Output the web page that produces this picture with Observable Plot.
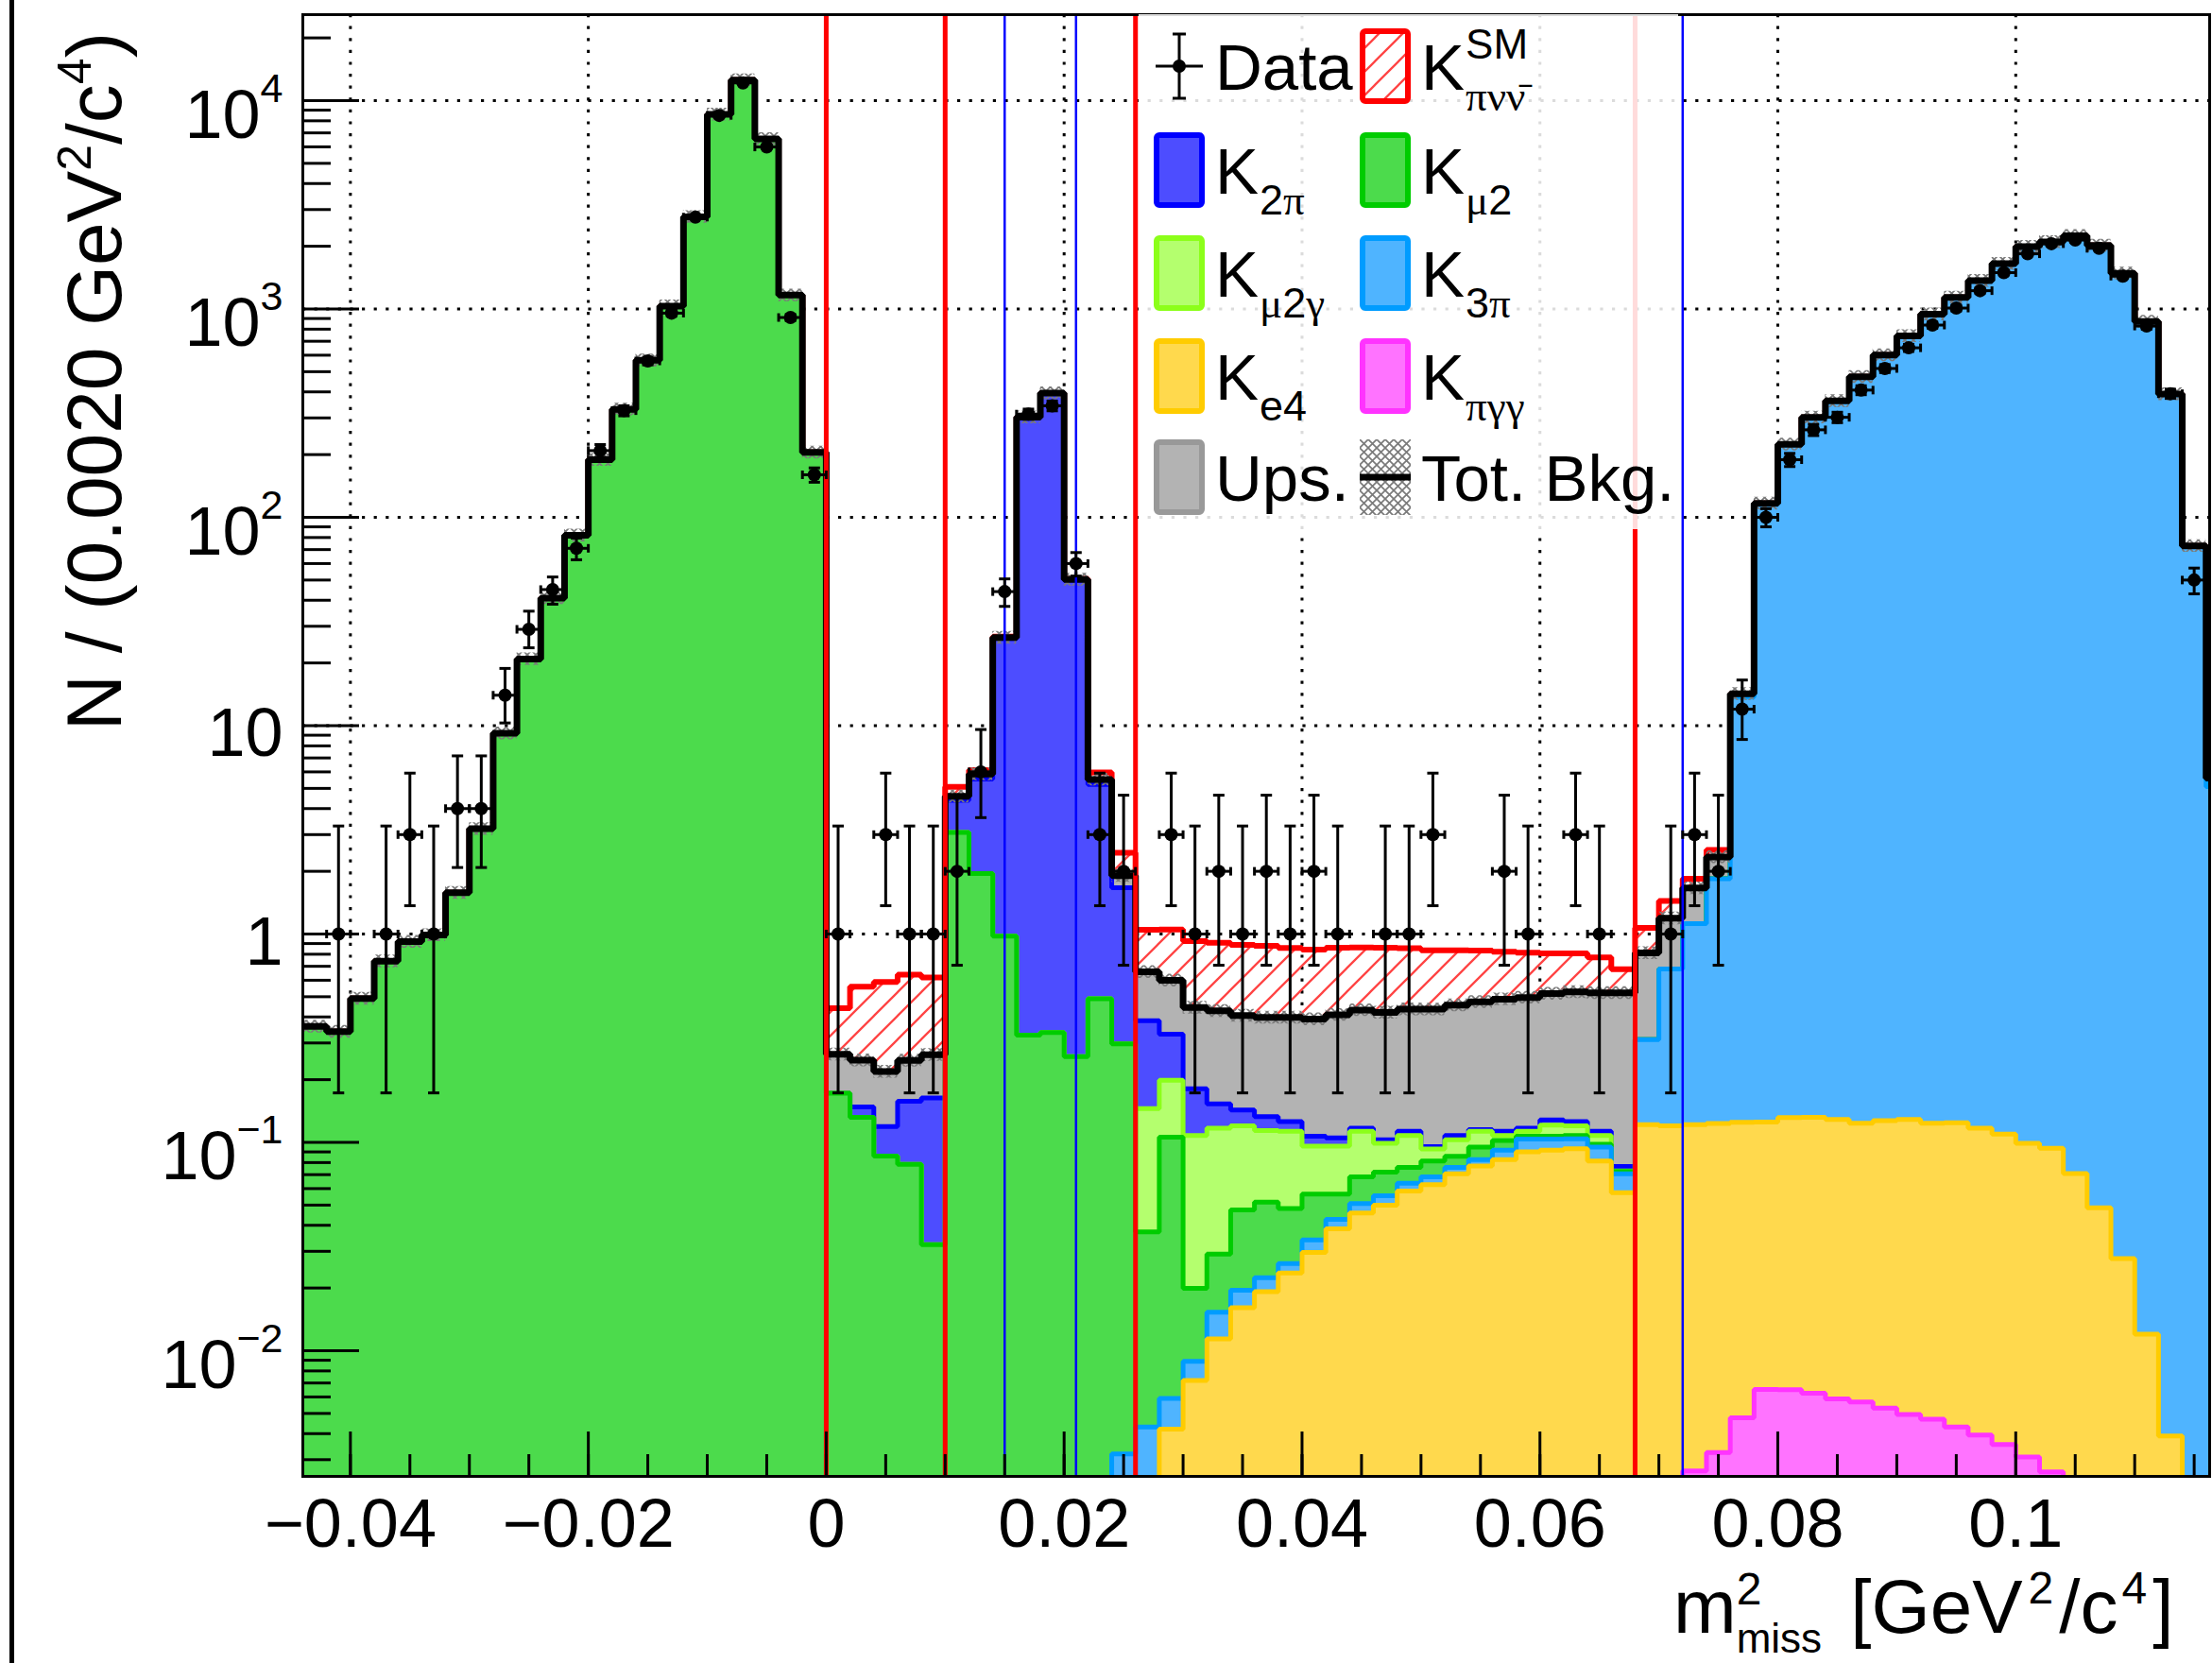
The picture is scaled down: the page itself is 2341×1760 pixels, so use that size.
<!DOCTYPE html>
<html>
<head>
<meta charset="utf-8">
<script src="https://cdn.jsdelivr.net/npm/d3@7"></script>
<script src="https://cdn.jsdelivr.net/npm/@observablehq/plot@0.6"></script>
<style>
  html, body { margin: 0; padding: 0; background: #fff; }
  #wrap { position: relative; width: 2341px; height: 1760px; overflow: hidden; background: #fff; }
  #edge { position: absolute; z-index: 5; left: 10px; top: 0; width: 0; height: 1760px; border-left: 5px solid #000; }
</style>
</head>
<body>
<div id="wrap"><div id="edge"></div></div>
<script>
// ---------------- binning / axes ----------------
const xStart = -0.044;
const binWidth = 0.002;
const xDomain = [-0.044, 0.1163];
const yDomain = [0.002494, 25860];

const xMajorTicks = [-0.04, -0.02, 0, 0.02, 0.04, 0.06, 0.08, 0.1];
const xTickLabels = ["\u22120.04", "\u22120.02", "0", "0.02", "0.04", "0.06", "0.08", "0.1"];
const yMajorTicks = [0.01, 0.1, 1, 10, 100, 1000, 10000];
const yTickBase = ["10", "10", "1", "10", "10", "10", "10"];
const yTickExp = ["\u22122", "\u22121", "", "", "2", "3", "4"];

const redCuts = [0, 0.010, 0.026, 0.068];
const blueCuts = [0.015, 0.021, 0.072];

// ---------------- data counts per bin (81 bins from -0.044) ----------------
const dataCounts = [
  0,1,0,1,3,1,4,4,14,29,45,71,209,325,563,955,2760,8490,12160,5990,910,160,
  1,0,3,1,1,
  2,6,44,313,343,60,3,2,
  0,3,1,2,1,2,1,2,1,0,1,1,3,0,0,2,1,0,3,1,0,
  0,1,3,2,12,100,189,263,302,408,518,651,837,1010,1224,1494,1840,2057,2141,1955,1437,828,392,50,0
];

// ---------------- stacked components (bottom to top) ----------------
const kpigg = [
  0,0,0,0,0,0,0,0,0,0,0,0,0,0,0,0,0,0,0,0,0,0,
  0,0,0,0,0,
  0,0,0,0,0,0,0,0,
  0,0,0,0,0,0,0,0,0,0,0,0,0,0,0,0,0,0,0,0,0,
  0,0,0.00265,0.00325,0.00477,0.00652,0.0065,0.00625,0.00587,0.00567,0.0053,0.00494,0.00469,0.0043,0.00394,0.00355,0.00309,0.00262,0,0,0,0,0,0,0
];
const ke4 = [
  0,0,0,0,0,0,0,0,0,0,0,0,0,0,0,0,0,0,0,0,0,0,
  0,0,0,0,0,
  0,0,0,0,0,0,0,0,
  0.0015,0.0042,0.0072,0.0114,0.0161,0.0192,0.0236,0.0296,0.0385,0.0458,0.0499,0.0584,0.0626,0.0707,0.0771,0.0827,0.0902,0.0918,0.0933,0.0813,0.0574,
  0.1216,0.12,0.119,0.12,0.12,0.1185,0.125,0.1257,0.123,0.118,0.122,0.124,0.119,0.12,0.113,0.106,0.096,0.091,0.0709,0.0485,0.0277,0.012,0.0039,0,0
];
const k3pi = [
  0,0,0,0,0,0,0,0,0,0,0,0,0,0,0,0,0,0,0,0,0,0,
  0,0,0,0,0,
  0,0,0,0,0,0,0,0.0032,
  0.0028,0.0017,0.0017,0.0039,0.0034,0.0032,0.0026,0.0044,0.0042,0.005,0.0055,0.0053,0.0057,0.0051,0.0056,0.0091,0.0136,0.012,0.0107,0.0137,0.0133,
  0.19,0.56,1.0,1.72,13.6,116.1,223.4,301.4,361.4,472.4,600.4,742.4,943.4,1137,1367,1650,1991,2097,2244,2016,1481,870,390,72.5,5.1
];
const kmu2 = [
  0.36,0.34,0.49,0.74,0.92,0.99,1.58,3.2,9.2,20.9,41,82,189,330,567,1033,2770,8590,12560,6550,1165,205,
  0.172,0.132,0.086,0.0785,0.0323,
  3.07,1.95,0.977,0.327,0.337,0.258,0.489,0.294,
  0.0329,0.1,0.011,0.0138,0.0279,0.0293,0.022,0.0224,0.0137,0.0175,0.0166,0.0121,0.013,0.0099,0.0123,0.0102,0.0032,0.0032,0.004,0.003,0.0018,
  0,0,0,0,0,0,0,0,0,0,0,0,0,0,0,0,0,0,0,0,0,0,0,0,0
];
const kmu2g = [
  0,0,0,0,0,0,0,0,0,0,0,0,0,0,0,0,0,0,0,0,0,0,
  0,0,0,0,0,
  0,0,0,0,0,0,0,0,
  0.108,0.093,0.088,0.088,0.0726,0.0623,0.0648,0.0396,0.0396,0.0447,0.027,0.0322,0.0117,0.0173,0.018,0.006,0.006,0.014,0.012,0.01,0.0005,
  0,0,0,0,0,0,0,0,0,0,0,0,0,0,0,0,0,0,0,0,0,0,0,0,0
];
const k2pi = [
  0,0,0,0,0,0,0,0,0,0,0,0,0,0,0,0,0,0,0,0,0,0,
  0,0.016,0.033,0.079,0.131,
  1.31,3.6,25.2,302,394,49.8,4.73,1.37,
  0.238,0.132,0.073,0.036,0.023,0.019,0.013,0.011,0.009,0.004,0.004,0.005,0.0025,0.005,0.002,0.005,0.004,0.007,0.006,0.005,0.0036,
  0,0,0,0,0,0,0,0,0,0,0,0,0,0,0,0,0,0,0,0,0,0,0,0,0
];
const ups = [
  0,0,0,0,0,0,0,0,0,0,0,0,0,0,0,0,0,0,0,0,0,0,
  0.093,0.1,0.1,0.09,0.1,
  0.2,0.3,0.3,0.3,0.3,0.3,0.3,0.24,
  0.275,0.269,0.263,0.275,0.263,0.265,0.272,0.284,0.305,0.315,0.317,0.323,0.34,0.348,0.358,0.374,0.379,0.39,0.401,0.409,0.445,
  0.5,0.51,0.54,0.5,0.5,0.5,0.5,0.5,0.5,0.5,0.5,0.5,0.5,0.5,0.5,0.5,0.5,0.5,0.5,0.5,0.5,0.5,0.5,0.5,0.5
];
const sigSM = [
  0,0,0,0,0,0,0,0,0,0,0,0,0,0,0,0,0,0,0,0,0,0,
  0.175,0.31,0.37,0.39,0.355,
  0.5,0.27,0.3,0.3,0.3,0.3,0.45,0.55,
  0.39,0.45,0.48,0.48,0.48,0.48,0.46,0.45,0.45,0.43,0.44,0.42,0.4,0.38,0.36,0.335,0.317,0.29,0.28,0.25,0.156,
  0.26,0.25,0.18,0.19,0,0,0,0,0,0,0,0,0,0,0,0,0,0,0,0,0,0,0,0,0
];
const totBkgRelUnc = 0.07;

// ---------------- styles ----------------
const layers = [
  {name: "Kpigg", values: kpigg, fill: "#ff73ff", stroke: "#ff33ff", width: 5},
  {name: "Ke4",   values: ke4,   fill: "#ffd94d", stroke: "#ffcc00", width: 5},
  {name: "K3pi",  values: k3pi,  fill: "#4fb4ff", stroke: "#009cff", width: 5},
  {name: "Kmu2",  values: kmu2,  fill: "#4cdb4c", stroke: "#00cc00", width: 5},
  {name: "Kmu2g", values: kmu2g, fill: "#b4ff6e", stroke: "#8cff1a", width: 5},
  {name: "K2pi",  values: k2pi,  fill: "#4d4dff", stroke: "#0000ff", width: 5},
  {name: "Ups",   values: ups,   fill: "#b3b3b3", stroke: "#999999", width: 5},
  {name: "Sig",   values: sigSM, fill: "url(#hatchRed)", stroke: "#ff0000", width: 6}
];

// ---------------- derived tables ----------------
const nb = dataCounts.length;
const edges = d3.range(nb + 1).map(i => xStart + i * binWidth);
const FLOOR = 1e-4;
let running = new Array(nb).fill(0);
const stacked = layers.map(L => {
  running = running.map((r, i) => r + L.values[i]);
  return {...L, cum: running.slice()};
});
const totBkg = stacked[6].cum;
function stepPoints(arr) {
  const pts = arr.map((v, i) => ({x: edges[i], y: Math.max(v, FLOOR)}));
  pts.push({x: edges[nb], y: Math.max(arr[nb - 1], FLOOR)});
  return pts;
}
function poisCdf(k, mu) {
  let term = Math.exp(-mu), sum = term;
  for (let j = 1; j <= k; j++) { term *= mu / j; sum += term; }
  return sum;
}
function bisect(f, lo, hi) {
  for (let it = 0; it < 80; it++) { const m = (lo + hi) / 2; if (f(m) > 0) lo = m; else hi = m; }
  return (lo + hi) / 2;
}
function garwood(n) {
  if (n > 30) return {lo: n - Math.sqrt(n), hi: n + Math.sqrt(n)};
  const a = 0.158655;
  const hi = bisect(mu => poisCdf(n, mu) - a, 0, n + 10 * Math.sqrt(n) + 10);
  const lo = n === 0 ? 0 : bisect(mu => poisCdf(n - 1, mu) - (1 - a), 0, n + 10);
  return {lo, hi};
}
const dataPts = dataCounts.map((n, i) => ({n, x1: edges[i], x2: edges[i + 1], xc: (edges[i] + edges[i + 1]) / 2, ...garwood(n)}))
  .filter(d => d.n > 0);

const xMinorTicks = d3.range(32).map(k => -0.04 + 0.005 * k);
const yMinorTicks = [];
for (let e = -3; e <= 4; e++) for (let m = 2; m <= 9; m++) {
  const v = m * Math.pow(10, e);
  if (v > yDomain[0] && v < yDomain[1]) yMinorTicks.push(v);
}

const hCap = {draw(ctx, size) { const w = Math.sqrt(size / Math.PI); ctx.moveTo(-w, 0); ctx.lineTo(w, 0); }};
const vCap = {draw(ctx, size) { const w = Math.sqrt(size / Math.PI); ctx.moveTo(0, -w); ctx.lineTo(0, w); }};

// ---------------- marks ----------------
const marks = [];
const gridStyle = {stroke: "black", strokeOpacity: 1, strokeWidth: 3, strokeDasharray: "3.2,9.4"};
marks.push(Plot.gridX(xMajorTicks, gridStyle));
marks.push(Plot.gridY(yMajorTicks, gridStyle));
for (const L of stacked.slice().reverse()) {
  const pts = stepPoints(L.cum);
  marks.push(Plot.areaY(pts, {x: "x", y1: FLOOR, y2: "y", curve: "step-after", fill: L.fill, clip: true}));
  marks.push(Plot.line(pts, {x: "x", y: "y", curve: "step-after", stroke: L.stroke, strokeWidth: L.width,
    strokeLinejoin: "miter", strokeLinecap: "butt", clip: true}));
}
const totPts = stepPoints(totBkg);
marks.push(Plot.areaY(totPts, {x: "x", y1: d => d.y * (1 - totBkgRelUnc), y2: d => d.y * (1 + totBkgRelUnc),
  curve: "step-after", fill: "url(#xhatch)", clip: true}));
marks.push(Plot.line(totPts, {x: "x", y: "y", curve: "step-after", stroke: "black", strokeWidth: 7,
  strokeLinejoin: "miter", strokeLinecap: "butt", clip: true}));
marks.push(Plot.ruleX(redCuts, {stroke: "#ff0000", strokeWidth: 5}));
marks.push(Plot.ruleX(blueCuts, {stroke: "#0000ff", strokeWidth: 2.5}));
marks.push(Plot.ruleX(dataPts, {x: "xc", y1: "lo", y2: "hi", stroke: "black", strokeWidth: 3, clip: true}));
marks.push(Plot.ruleY(dataPts, {y: "n", x1: "x1", x2: "x2", stroke: "black", strokeWidth: 3, clip: true}));
marks.push(Plot.dot(dataPts, {x: "xc", y: "lo", symbol: hCap, r: 6, stroke: "black", strokeWidth: 3, fill: "none", clip: true}));
marks.push(Plot.dot(dataPts, {x: "xc", y: "hi", symbol: hCap, r: 6, stroke: "black", strokeWidth: 3, fill: "none", clip: true}));
marks.push(Plot.dot(dataPts, {x: "x1", y: "n", symbol: vCap, r: 4.5, stroke: "black", strokeWidth: 3, fill: "none", clip: true}));
marks.push(Plot.dot(dataPts, {x: "x2", y: "n", symbol: vCap, r: 4.5, stroke: "black", strokeWidth: 3, fill: "none", clip: true}));
marks.push(Plot.dot(dataPts, {x: "xc", y: "n", r: 7, fill: "black", stroke: "none", clip: true}));
marks.push(Plot.frame({stroke: "black", strokeWidth: 3}));
marks.push(Plot.axisX(xMajorTicks, {tickSize: 0, tickPadding: 23, fontSize: 72, label: null,
  tickFormat: d => xTickLabels[xMajorTicks.indexOf(d)]}));
marks.push(Plot.axisX(xMajorTicks, {tickSize: -47, strokeWidth: 3, label: null, tickFormat: () => ""}));
marks.push(Plot.axisX(xMinorTicks, {tickSize: -23, strokeWidth: 3, label: null, tickFormat: () => ""}));
marks.push(Plot.axisY(yMajorTicks, {tickSize: 0, tickPadding: 21, fontSize: 72, label: null,
  tickFormat: d => { const i = yMajorTicks.indexOf(d); return yTickBase[i] + "^" + yTickExp[i]; }}));
marks.push(Plot.axisY(yMajorTicks, {tickSize: -60, strokeWidth: 3, label: null, tickFormat: () => ""}));
marks.push(Plot.axisY(yMinorTicks, {tickSize: -30, strokeWidth: 3, label: null, tickFormat: () => ""}));

const chart = Plot.plot({
  width: 2341, height: 1760,
  marginLeft: 320, marginRight: 3, marginTop: 15, marginBottom: 198,
  style: {fontFamily: "'Liberation Sans', Arial, Helvetica, sans-serif", fontSize: "72px", color: "black", background: "white", overflow: "visible"},
  x: {domain: xDomain},
  y: {type: "log", domain: yDomain},
  marks
});
document.getElementById("wrap").appendChild(chart);

// ---------------- post-processing: patterns, labels, legend ----------------
const ns = "http://www.w3.org/2000/svg";
const svg = d3.select(chart);
const defs = svg.insert("defs", ":first-child");
const pr = defs.append("pattern").attr("id", "hatchRed").attr("patternUnits", "userSpaceOnUse")
  .attr("width", 25).attr("height", 25);
pr.append("path").attr("d", "M0,25 L25,0 M-5,5 L5,-5 M20,30 L30,20")
  .attr("stroke", "#ff4444").attr("stroke-width", 2.3).attr("fill", "none");
const px = defs.append("pattern").attr("id", "xhatch").attr("patternUnits", "userSpaceOnUse")
  .attr("width", 9).attr("height", 9);
px.append("path").attr("d", "M0,0 L9,9 M9,0 L0,9").attr("stroke", "#7a7a7a").attr("stroke-width", 1.7).attr("fill", "none");

// y tick labels with exponents
chart.querySelectorAll("text").forEach(t => {
  const s = t.textContent;
  if (!s.includes("^")) return;
  const [b, e] = s.split("^");
  t.textContent = "";
  const t1 = document.createElementNS(ns, "tspan");
  t1.textContent = b; t1.setAttribute("dy", e ? "16" : "9");
  t.appendChild(t1);
  if (e) {
    const t2 = document.createElementNS(ns, "tspan");
    t2.textContent = e; t2.setAttribute("font-size", "43"); t2.setAttribute("dy", "-38");
    t.appendChild(t2);
  }
});

const FONT = "'Liberation Sans', Arial, Helvetica, sans-serif";
const SERIF = "'Liberation Serif', 'DejaVu Serif', serif";

// y title
const yt = svg.append("text").attr("transform", "translate(128,34) rotate(-90)")
  .attr("text-anchor", "end").attr("font-size", 82).attr("font-family", FONT).attr("fill", "black");
yt.append("tspan").text("N / (0.0020 GeV");
yt.append("tspan").attr("font-size", 50).attr("dy", -32).text("2");
yt.append("tspan").attr("dy", 32).text("/c");
yt.append("tspan").attr("font-size", 50).attr("dy", -32).text("4");
yt.append("tspan").attr("dy", 32).text(")");

// x title
const xt = svg.append("text").attr("x", 1771).attr("y", 1728).attr("font-size", 80)
  .attr("text-anchor", "start").attr("font-family", FONT).attr("fill", "black");
xt.append("tspan").text("m");
const supM = xt.append("tspan").attr("font-size", 48).attr("dy", -30).text("2");
const supW = supM.node().getComputedTextLength();
xt.append("tspan").attr("font-size", 44).attr("dx", -supW).attr("dy", 51).text("miss");
xt.append("tspan").attr("dy", -21).attr("dx", 8).text(" [GeV");
xt.append("tspan").attr("font-size", 48).attr("dy", -31).attr("dx", 6).text("2");
xt.append("tspan").attr("dy", 31).attr("dx", 6).text("/c");
xt.append("tspan").attr("font-size", 48).attr("dy", -31).attr("dx", 4).text("4");
xt.append("tspan").attr("dy", 31).attr("dx", 6).text("]");

// legend
const legendEntries = [
  {col: 0, row: 0, type: "data", main: "Data"},
  {col: 1, row: 0, type: "sig", main: "K", sup: "SM", sub: "\u03c0\u03bd\u03bd\u0304"},
  {col: 0, row: 1, type: "box", fill: "#4d4dff", stroke: "#0000ff", main: "K", sub: "2\u03c0"},
  {col: 1, row: 1, type: "box", fill: "#4cdb4c", stroke: "#00cc00", main: "K", sub: "\u03bc2"},
  {col: 0, row: 2, type: "box", fill: "#b4ff6e", stroke: "#8cff1a", main: "K", sub: "\u03bc2\u03b3"},
  {col: 1, row: 2, type: "box", fill: "#4fb4ff", stroke: "#009cff", main: "K", sub: "3\u03c0"},
  {col: 0, row: 3, type: "box", fill: "#ffd94d", stroke: "#ffcc00", main: "K", sub: "e4"},
  {col: 1, row: 3, type: "box", fill: "#ff73ff", stroke: "#ff33ff", main: "K", sub: "\u03c0\u03b3\u03b3"},
  {col: 0, row: 4, type: "box", fill: "#b3b3b3", stroke: "#999999", main: "Ups."},
  {col: 1, row: 4, type: "tot", main: "Tot. Bkg."}
];
const lgX = 1205, lgY = 15, lgW = 571, lgH = 545;
const colSw = [16, 234], colTx = [81, 299], rowBase = [80, 190, 299, 408, 515];
const lg = svg.append("g").attr("transform", `translate(${lgX},${lgY})`)
  .attr("font-family", FONT).attr("text-anchor", "start");
lg.append("rect").attr("width", lgW).attr("height", lgH).attr("fill", "white").attr("fill-opacity", 0.86);

function runs(str) {
  const out = [];
  for (const ch of str) {
    const g = /[\u0300-\u03FF]/.test(ch);
    if (out.length && out[out.length - 1].g === g) out[out.length - 1].s += ch; else out.push({s: ch, g});
  }
  return out;
}
for (const e of legendEntries) {
  const sx = colSw[e.col], base = rowBase[e.row], cy = base - 25;
  if (e.type === "box" || e.type === "sig") {
    lg.append("rect").attr("x", sx + 3).attr("y", cy - 37).attr("width", 48).attr("height", 74).attr("rx", 3)
      .attr("fill", e.type === "sig" ? "url(#hatchRed)" : e.fill)
      .attr("stroke", e.type === "sig" ? "#ff0000" : e.stroke).attr("stroke-width", 6);
  } else if (e.type === "tot") {
    lg.append("rect").attr("x", sx).attr("y", cy - 40).attr("width", 54).attr("height", 80).attr("fill", "url(#xhatch)");
    lg.append("line").attr("x1", sx).attr("x2", sx + 54).attr("y1", cy).attr("y2", cy).attr("stroke", "black").attr("stroke-width", 7);
  } else if (e.type === "data") {
    const cx = sx + 27;
    lg.append("line").attr("x1", cx).attr("x2", cx).attr("y1", cy - 34).attr("y2", cy + 34).attr("stroke", "black").attr("stroke-width", 3);
    lg.append("line").attr("x1", cx - 25).attr("x2", cx + 25).attr("y1", cy).attr("y2", cy).attr("stroke", "black").attr("stroke-width", 3);
    lg.append("line").attr("x1", cx - 7).attr("x2", cx + 7).attr("y1", cy - 34).attr("y2", cy - 34).attr("stroke", "black").attr("stroke-width", 3);
    lg.append("line").attr("x1", cx - 7).attr("x2", cx + 7).attr("y1", cy + 34).attr("y2", cy + 34).attr("stroke", "black").attr("stroke-width", 3);
    lg.append("circle").attr("cx", cx).attr("cy", cy).attr("r", 7).attr("fill", "black");
  }
  const t = lg.append("text").attr("x", colTx[e.col]).attr("y", base).attr("font-size", 69)
    .attr("fill", "black").attr("text-anchor", "start");
  const mainSpan = t.append("tspan").text(e.main);
  const mw = mainSpan.node().getComputedTextLength();
  const subX = colTx[e.col] + mw + 1;
  let curDy = 0;
  if (e.sup) {
    t.append("tspan").attr("x", subX).attr("dy", -33).attr("font-size", 44).text(e.sup);
    curDy = -33;
  }
  if (e.sub) {
    const rs = runs(e.sub);
    rs.forEach((r, k) => {
      const sp = t.append("tspan").attr("font-size", 45).text(r.s);
      if (r.g) sp.attr("font-family", SERIF);
      if (k === 0) sp.attr("x", subX).attr("dy", 22 - curDy);
    });
  }
}
</script>
</body>
</html>
